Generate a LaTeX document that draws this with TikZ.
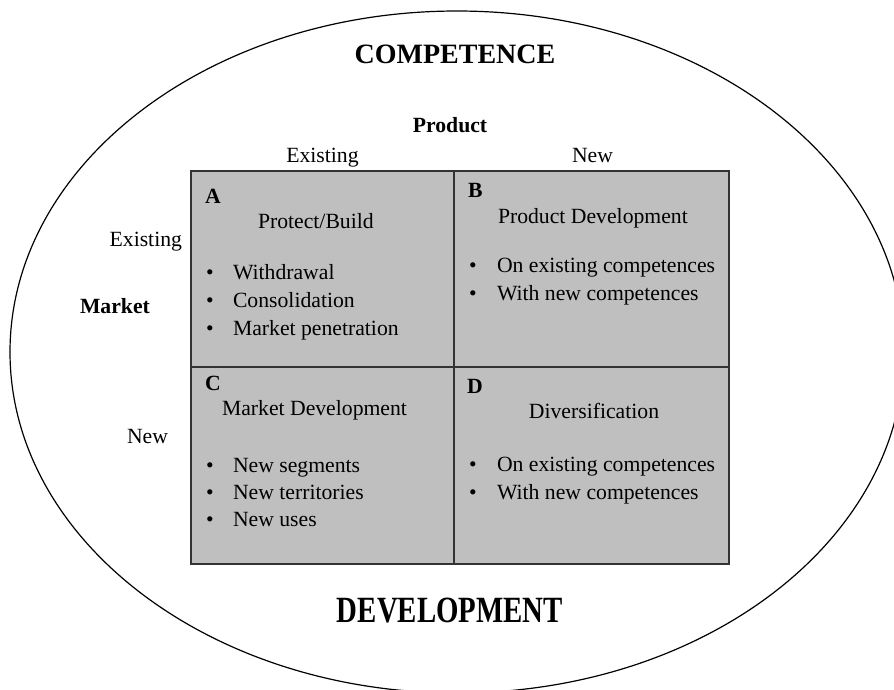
\documentclass[tikz,border=0pt]{standalone}
\usepackage{fontspec}
\setmainfont{Liberation Serif}
\newcommand\bodyfont{\fontsize{21.7}{26}\selectfont}
\begin{document}
\begin{tikzpicture}[x=1pt,y=-1pt,
  txt/.style={inner sep=0pt,outer sep=0pt,font=\bodyfont,anchor=base west},
  txtc/.style={txt,anchor=base},
  txte/.style={txt,anchor=base east},
  hdr/.style={txt,font=\bodyfont\bfseries},
  bul/.style={inner sep=0pt,font=\bodyfont,anchor=base},
  gridline/.style={line width=1.5pt,draw=black!80},
  cellfill/.style={fill=black!25}]
\useasboundingbox (0,0) rectangle (894,689);
\clip (0,0) rectangle (894,689);
% outer ellipse
\draw[line width=1.2pt] (457,352) ellipse [x radius=447, y radius=341];
% titles
\node[inner sep=0pt,anchor=base,font=\fontsize{28}{32}\selectfont\bfseries] (comp) at (455,63) {COMPETENCE};
\node[inner sep=0pt,anchor=base,xscale=0.78,font=\fontsize{37}{40}\selectfont\bfseries] (dev) at (450,622) {DEVELOPMENT};
% axis labels
\node[hdr,anchor=base] (prod) at (450,132) {Product};
\node[txtc] (pex) at (322.5,162) {Existing};
\node[txtc] (pnew) at (592.5,162) {New};
\node[txte] (mex) at (182,246) {Existing};
\node[hdr] (mkt) at (80,313) {Market};
\node[txte] (mnew) at (168,443) {New};
% grid
\fill[cellfill] (191,171) rectangle (729,564);
\draw[gridline] (191,171) rectangle (729,564);
\draw[gridline] (454,171) -- (454,564);
\draw[gridline] (191,367) -- (729,367);
% cell A
\node[hdr] (la) at (205,203) {A};
\node[txt] (ta) at (258,228) {Protect/Build};
\foreach \y/\t [count=\i] in {279/Withdrawal,307/Consolidation,335/Market penetration}{
  \node[bul] (ba\i) at (210,\y) {•};
  \node[txt] (ia\i) at (233,\y) {\t};
}
% cell B
\node[hdr] (lb) at (468,197) {B};
\node[txt] (tb) at (498,223) {Product Development};
\foreach \y/\t [count=\i] in {272/On existing competences,300/With new competences}{
  \node[bul] (bb\i) at (473,\y) {•};
  \node[txt] (ib\i) at (497,\y) {\t};
}
% cell C
\node[hdr] (lc) at (205,390) {C};
\node[txt] (tc) at (222,415) {Market Development};
\foreach \y/\t [count=\i] in {472/New segments,499/New territories,526/New uses}{
  \node[bul] (bc\i) at (210,\y) {•};
  \node[txt] (ic\i) at (233,\y) {\t};
}
% cell D
\node[hdr] (ld) at (467,393) {D};
\node[txtc] (td) at (594,418) {Diversification};
\foreach \y/\t [count=\i] in {471/On existing competences,499/With new competences}{
  \node[bul] (bd\i) at (473,\y) {•};
  \node[txt] (id\i) at (497,\y) {\t};
}
\end{tikzpicture}
\end{document}
